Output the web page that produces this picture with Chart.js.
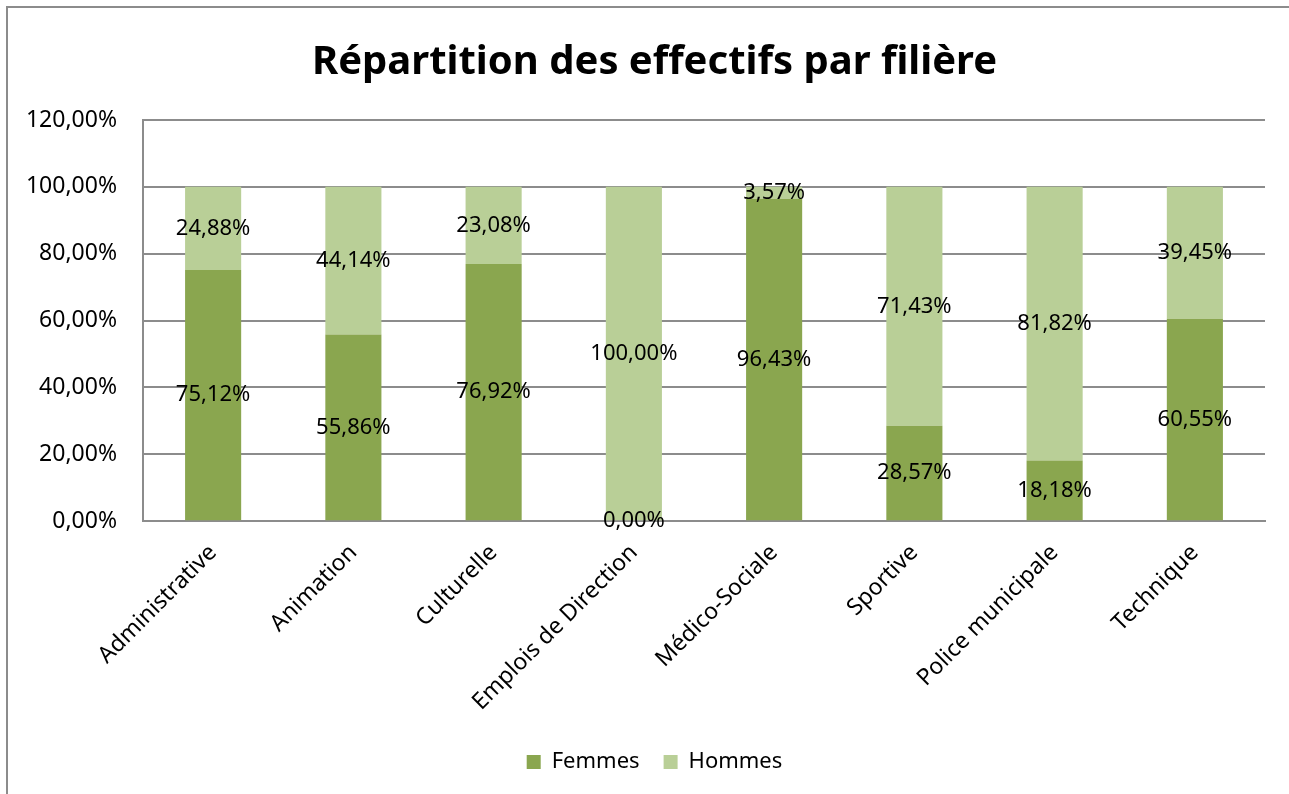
<!DOCTYPE html>
<html>
<head>
<meta charset="utf-8">
<script src="https://cdn.jsdelivr.net/npm/chart.js@4"></script>
<style>
  html, body { margin: 0; background: #fff; overflow: hidden; width: 1289px; height: 794px; }
  #frame { position: absolute; left: 6px; top: 6px; width: 1300px; height: 800px; border: 2px solid #8c8c8c; box-sizing: border-box; }
  #box { position: absolute; left: 7px; top: 0; width: 1296px; height: 794px; }
</style>
</head>
<body>
<div id="frame"></div>
<div id="box"><canvas id="myChart"></canvas></div>
<script>
const categories = ['Administrative', 'Animation', 'Culturelle', 'Emplois de Direction', 'Médico-Sociale', 'Sportive', 'Police municipale', 'Technique'];
const femmes = [75.12, 55.86, 76.92, 0.00, 96.43, 28.57, 18.18, 60.55];
const hommes = [24.88, 44.14, 23.08, 100.00, 3.57, 71.43, 81.82, 39.45];
const yTicks = [0, 20, 40, 60, 80, 100, 120];

const fmt = v => v.toFixed(2).replace('.', ',') + '%';
const FONT = "'Noto Sans', sans-serif";

// draws the value in the middle of each bar segment
const segmentLabels = {
    id: 'segmentLabels',
    afterDatasetsDraw(chart) {
        const ctx = chart.ctx;
        ctx.save();
        ctx.font = '22px ' + FONT;
        ctx.fillStyle = '#000';
        ctx.textAlign = 'center';
        ctx.textBaseline = 'middle';
        chart.data.datasets.forEach((ds, i) => {
            chart.getDatasetMeta(i).data.forEach((bar, j) => {
                ctx.fillText(fmt(ds.data[j]), bar.x, (bar.y + bar.base) / 2);
            });
        });
        ctx.restore();
    }
};

const ctx = document.getElementById('myChart');
const myChart = new Chart(ctx, {
    type: 'bar',
    data: {
        labels: categories,
        datasets: [{
            label: 'Femmes',
            data: femmes,
            backgroundColor: '#8aa64f',
            categoryPercentage: 1,
            barPercentage: 0.4
        }, {
            label: 'Hommes',
            data: hommes,
            backgroundColor: '#b9cf97',
            categoryPercentage: 1,
            barPercentage: 0.4
        }]
    },
    options: {
        responsive: true,
        maintainAspectRatio: false,
        animation: false,
        layout: { autoPadding: false, padding: { left: 18, right: 19, top: 14, bottom: 11 } },
        plugins: {
            title: {
                display: true,
                text: 'Répartition des effectifs par filière',
                color: '#000',
                font: { family: FONT, size: 40, weight: 'bold' },
                padding: { top: 25, bottom: 33 }
            },
            legend: {
                position: 'bottom',
                labels: {
                    color: '#000',
                    font: { family: FONT, size: 22 },
                    boxWidth: 14,
                    boxHeight: 14,
                    padding: 24
                }
            },
            tooltip: { enabled: false }
        },
        scales: {
            x: {
                stacked: true,
                grid: { display: false, drawTicks: false },
                border: { color: '#8c8c8c', width: 2 },
                afterFit: axis => { axis.height -= 7; },
                ticks: {
                    color: '#000',
                    font: { family: FONT, size: 23 },
                    minRotation: 45,
                    maxRotation: 45,
                    padding: 18
                }
            },
            y: {
                stacked: true,
                min: 0,
                max: 120,
                afterBuildTicks: axis => { axis.ticks = yTicks.map(v => ({ value: v })); },
                afterFit: axis => { axis.width = 118; },
                grid: { color: '#8c8c8c', lineWidth: 2, drawTicks: false },
                border: { color: '#8c8c8c', width: 2 },
                ticks: {
                    color: '#000',
                    font: { family: FONT, size: 23 },
                    padding: 26,
                    callback: v => fmt(v)
                }
            },
            // empty right margin so title and legend sit where the original has them
            yRight: {
                position: 'right',
                grid: { display: false, drawTicks: false },
                border: { display: false },
                ticks: { display: false },
                afterFit: axis => { axis.width = 19; }
            }
        }
    },
    plugins: [segmentLabels]
});
</script>
</body>
</html>
